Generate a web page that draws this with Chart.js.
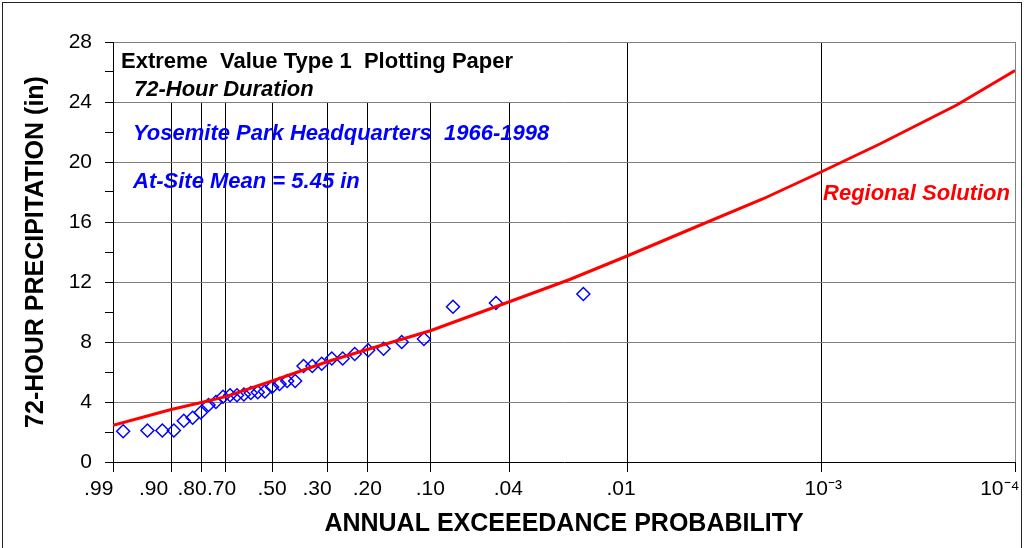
<!DOCTYPE html>
<html lang="en">
<head>
<meta charset="UTF-8" />
<title>Extreme Value Type 1 Plotting Paper</title>
<script src="https://cdn.jsdelivr.net/npm/chart.js@4"></script>
<style>
  body { margin: 0; background: #fff; }
  #evChart { display: block; }
</style>
</head>
<body>
<canvas id="evChart" width="1025" height="548"></canvas>
<script>
// bottom axis: annual exceedance probability (grid lines + labels)
const probTicks = [0.99, 0.90, 0.80, 0.70, 0.50, 0.30, 0.20, 0.10, 0.04, 0.01, 0.001, 0.0001];
const probLabels = ['.99', '.90', '.80', '.70', '.50', '.30', '.20', '.10', '.04', '.01', '10\u207B\u00B3', '10\u207B\u2074'];
const precipTicks = [0, 2, 4, 6, 8, 10, 12, 14, 16, 18, 20, 22, 24, 26, 28];

// at-site annual maxima, ranked (plotting position, inches)
const siteProb = [0.0169, 0.0471, 0.0773, 0.1075, 0.1377, 0.1679, 0.1981, 0.2283, 0.2585, 0.2886, 0.3188,
  0.3490, 0.3792, 0.4094, 0.4396, 0.4698, 0.5000, 0.5302, 0.5604, 0.5906, 0.6208, 0.6510, 0.6812,
  0.7114, 0.7415, 0.7717, 0.8019, 0.8321, 0.8623, 0.8925, 0.9227, 0.9529, 0.9831];
const sitePrecip = [11.2, 10.6, 10.35, 8.2, 8.0, 7.55, 7.45, 7.2, 6.9, 6.9, 6.55,
  6.4, 6.4, 5.4, 5.4, 5.2, 5.0, 4.7, 4.65, 4.6, 4.5, 4.45, 4.45,
  4.35, 4.0, 3.8, 3.3, 2.95, 2.75, 2.1, 2.1, 2.1, 2.05];

// regional growth curve scaled to the at-site mean
const regionalProb = [0.99, 0.95, 0.90, 0.80, 0.70, 0.50, 0.30, 0.20, 0.10, 0.04, 0.02, 0.01,
  0.005, 0.002, 0.001, 0.0005, 0.0002, 0.0001];
const regionalPrecip = [2.45, 3.1, 3.5, 3.97, 4.36, 5.4, 6.7, 7.5, 8.75, 10.7, 12.15, 13.75,
  15.4, 17.55, 19.35, 21.2, 23.8, 26.1];

// EV1 (Gumbel) reduced variate for an exceedance probability
function ev1(p) {
  return -Math.log(-Math.log(1 - p));
}

// small shifts of the probability labels off their grid lines (reduced-variate units)
const labelNudge = [-0.17, -0.21, -0.11, -0.05, 0, -0.13, 0, 0, -0.02, -0.08, 0.02, -0.18];

Chart.defaults.font.family = "'Liberation Sans', Arial, sans-serif";
Chart.defaults.color = '#000';

const notesPlugin = {
  id: 'notes',
  beforeDraw(chart) {
    const c = chart.ctx;
    c.save();
    c.fillStyle = '#fff';
    c.fillRect(0, 0, chart.width, chart.height);
    c.restore();
  },
  beforeDatasetsDraw(chart) {
    // white box behind the heading, hides the vertical lines above 24 in
    const {ctx: c, chartArea: a, scales} = chart;
    const right = Math.round(scales.x.getPixelForValue(ev1(0.02)));
    const bottom = Math.round(scales.y.getPixelForValue(24));
    c.save();
    c.fillStyle = '#fff';
    c.fillRect(a.left + 1, a.top + 1, right - a.left - 1, bottom - a.top - 1);
    c.restore();
  },
  afterDatasetsDraw(chart) {
    const {ctx: c, chartArea: a} = chart;
    const ff = "'Liberation Sans', Arial, sans-serif";
    c.save();
    c.textBaseline = 'alphabetic';
    c.textAlign = 'left';
    c.fillStyle = '#000';
    c.font = 'bold 22px ' + ff;
    c.fillText('Extreme  Value Type 1  Plotting Paper', a.left + 8, a.top + 26);
    c.font = 'italic bold 22px ' + ff;
    c.fillText('72-Hour Duration', a.left + 21, a.top + 54);
    c.fillStyle = '#0000ff';
    c.fillText('Yosemite Park Headquarters  1966-1998', a.left + 20, a.top + 98);
    c.fillText('At-Site Mean = 5.45 in', a.left + 20, a.top + 146);
    c.fillStyle = '#ff0000';
    c.textAlign = 'right';
    c.fillText('Regional Solution', a.right - 5, a.top + 158);
    c.restore();
  },
  afterDraw(chart) {
    const c = chart.ctx;
    c.save();
    c.strokeStyle = '#222';
    c.lineWidth = 1;
    c.strokeRect(2.5, 2.5, 1019, 560);
    c.restore();
  }
};

new Chart(document.getElementById('evChart'), {
  type: 'scatter',
  data: {
    datasets: [
      {
        label: 'Regional Solution',
        data: regionalProb.map((p, i) => ({x: ev1(p), y: regionalPrecip[i]})),
        showLine: true,
        borderColor: '#ff0000',
        borderWidth: 3,
        pointRadius: 0,
        tension: 0,
        xAxisID: 'x',
        yAxisID: 'y'
      },
      {
        label: 'At-Site',
        data: siteProb.map((p, i) => ({x: ev1(p), y: sitePrecip[i]})),
        showLine: false,
        pointStyle: 'rectRot',
        pointRadius: 6.5,
        pointBorderWidth: 1.5,
        borderColor: '#0000ff',
        backgroundColor: 'rgba(0,0,0,0)',
        xAxisID: 'x',
        yAxisID: 'y'
      }
    ]
  },
  options: {
    responsive: false,
    animation: false,
    layout: {padding: {left: 0, right: 10, top: 42, bottom: 0}},
    plugins: {
      legend: {display: false},
      tooltip: {enabled: false}
    },
    scales: {
      x: {
        type: 'linear',
        position: 'bottom',
        weight: 0,
        min: ev1(0.99),
        max: ev1(0.0001),
        afterBuildTicks: s => { s.ticks = probTicks.map(p => ({value: ev1(p)})); },
        afterFit: s => { s.height = 10; s.paddingLeft = 0; s.paddingRight = 0; },
        ticks: {display: false},
        grid: {
          color: ctx => (ctx.index === probTicks.length - 1 ? '#808080' : '#000'),
          tickColor: '#000',
          tickLength: 10,
          lineWidth: 1
        },
        border: {color: '#000', width: 1}
      },
      xl: {
        type: 'linear',
        position: 'bottom',
        weight: 1,
        min: ev1(0.99),
        max: ev1(0.0001),
        afterBuildTicks: s => { s.ticks = probTicks.map((p, i) => ({value: ev1(p) + labelNudge[i]})); },
        afterFit: s => { s.height = 76; s.paddingLeft = 0; s.paddingRight = 0; },
        ticks: {
          autoSkip: false,
          maxRotation: 0,
          padding: 5,
          font: {size: 21},
          callback: (v, i) => probLabels[i]
        },
        grid: {display: false, drawTicks: false},
        border: {display: false},
        title: {
          display: true,
          text: 'ANNUAL EXCEEEDANCE PROBABILITY',
          font: {size: 25, weight: 'bold'},
          padding: {top: 0, bottom: 9}
        }
      },
      y: {
        type: 'linear',
        position: 'left',
        min: 0,
        max: 28,
        afterBuildTicks: s => { s.ticks = precipTicks.map(v => ({value: v})); },
        afterFit: s => { s.width = 113; s.paddingTop = 0; s.paddingBottom = 0; },
        ticks: {
          padding: 13,
          font: {size: 21},
          callback: v => (v % 4 === 0 ? v : '')
        },
        grid: {
          color: ctx => (ctx.tick && ctx.tick.value > 0 && ctx.tick.value % 4 === 0 ? '#808080' : 'rgba(0,0,0,0)'),
          tickColor: '#000',
          tickLength: 8
        },
        border: {color: '#000', width: 1},
        title: {
          display: true,
          text: '72-HOUR PRECIPITATION (in)',
          font: {size: 25, weight: 'bold'},
          padding: {top: 21, bottom: 0}
        }
      }
    }
  },
  plugins: [notesPlugin]
});
</script>
</body>
</html>
